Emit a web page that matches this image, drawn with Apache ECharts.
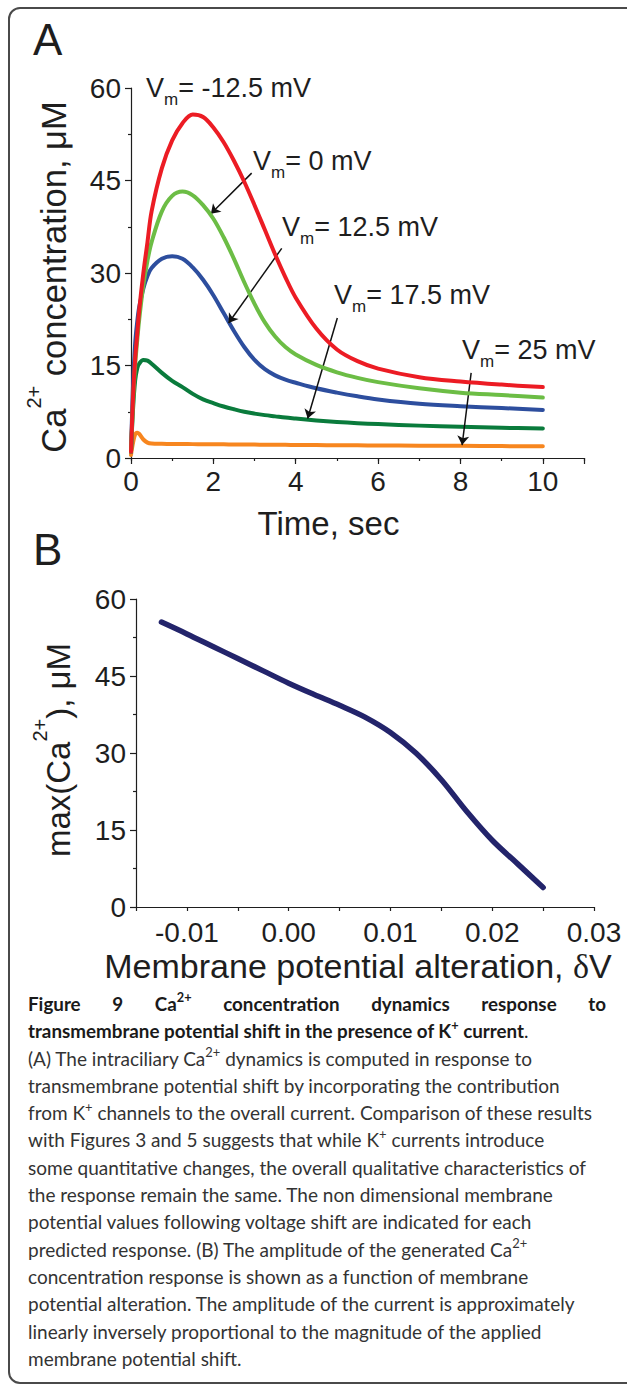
<!DOCTYPE html>
<html>
<head>
<meta charset="utf-8">
<script src="https://cdn.jsdelivr.net/npm/echarts@6/dist/echarts.min.js"></script>
<style>
html,body{margin:0;padding:0;background:#fff;}
#wrap{position:relative;width:627px;height:1387px;overflow:hidden;background:#fff;}
#frame{position:absolute;left:8px;top:7px;width:680px;height:1377px;border:2px solid #4a4a4a;border-radius:12px;box-sizing:border-box;}
#chart{position:absolute;left:0;top:0;width:627px;height:990px;}
#caption{position:absolute;left:28px;top:990px;width:580px;font-family:'Lato','Open Sans',sans-serif;font-size:19px;line-height:27.3px;color:#333;}
#caption div{white-space:nowrap;}
#caption .b{font-weight:700;color:#1a1a1a;font-size:18.8px;}
#caption .b .n{font-weight:400;}
#caption .just{white-space:normal;text-align:justify;text-align-last:justify;width:578px;}
#caption sup{font-size:0.68em;line-height:0;position:relative;top:-0.1em;}
</style>
</head>
<body>
<div id="wrap">
<div id="frame"></div>
<div id="chart"></div>
<div id="caption">
<div class="b just">Figure 9 Ca<sup>2+</sup> concentration dynamics response to</div>
<div class="b">transmembrane potential shift in the presence of K<sup>+</sup> current<span class="n">.</span></div>
<div>(A) The intraciliary Ca<sup>2+</sup> dynamics is computed in response to</div>
<div>transmembrane potential shift by incorporating the contribution</div>
<div>from K<sup>+</sup> channels to the overall current. Comparison of these results</div>
<div>with Figures 3 and 5 suggests that while K<sup>+</sup> currents introduce</div>
<div>some quantitative changes, the overall qualitative characteristics of</div>
<div>the response remain the same. The non dimensional membrane</div>
<div>potential values following voltage shift are indicated for each</div>
<div>predicted response. (B) The amplitude of the generated Ca<sup>2+</sup></div>
<div>concentration response is shown as a function of membrane</div>
<div>potential alteration. The amplitude of the current is approximately</div>
<div>linearly inversely proportional to the magnitude of the applied</div>
<div>membrane potential shift.</div>
</div>
</div>
<script>
// ---------- Panel A data: Ca2+ concentration (µM) vs time (s) ----------
const timeSec = [0, 0.05, 0.1, 0.15, 0.2, 0.3, 0.4, 0.5, 0.75, 1, 1.25, 1.5, 1.75, 2, 2.25, 2.5, 2.75, 3, 3.25, 3.5, 3.75, 4, 4.5, 5, 5.5, 6, 7, 8, 9, 10];
const caVmMinus12_5 = [1, 10, 16, 20, 24, 30, 35, 40, 47, 51.5, 54.3, 55.7, 55.3, 53.6, 51.2, 48.2, 44.8, 41, 37, 33, 29.3, 26, 21, 17.6, 15.7, 14.5, 13.1, 12.4, 11.9, 11.5];
const caVm0 = [1, 9, 15, 19, 22.5, 28, 32, 35, 40, 42.5, 43.2, 42.6, 41, 38.8, 35.8, 32.3, 28.5, 25, 22, 19.7, 18, 16.8, 15.1, 13.9, 13, 12.3, 11.3, 10.6, 10.2, 9.8];
const caVm12_5 = [1, 12, 18.5, 22, 24.5, 27.5, 29.5, 30.8, 32.3, 32.7, 32.3, 30.9, 28.9, 26.4, 23.5, 20.6, 18, 15.9, 14.4, 13.4, 12.7, 12.2, 11.3, 10.6, 10, 9.5, 8.8, 8.4, 8.1, 7.8];
const caVm17_5 = [1, 8, 12.5, 14.5, 15.3, 15.9, 15.8, 15.3, 13.8, 12.5, 11.5, 10.4, 9.5, 8.9, 8.35, 7.9, 7.5, 7.2, 6.95, 6.75, 6.55, 6.4, 6.1, 5.85, 5.65, 5.5, 5.25, 5.05, 4.9, 4.8];
const caVm25 = [0.5, 2.5, 3.8, 4.1, 3.9, 3.0, 2.5, 2.35, 2.3, 2.28, 2.26, 2.25, 2.24, 2.23, 2.21, 2.2, 2.18, 2.17, 2.16, 2.15, 2.13, 2.12, 2.1, 2.07, 2.05, 2.03, 2.0, 1.97, 1.93, 1.9];
const vmLabels = ['= -12.5 mV', '= 0 mV', '= 12.5 mV', '= 17.5 mV', '= 25 mV'];
// annotation arrows in data units [from, to]
const arrowVm0 = [[2.93, 46.2], [1.94, 39.6]];
const arrowVm12_5 = [[3.66, 34.0], [2.37, 21.9]];
const arrowVm17_5 = [[5.01, 22.7], [4.29, 6.4]];
const arrowVm25 = [[8.26, 13.8], [8.04, 2.1]];
const xTicksA = [0, 2, 4, 6, 8, 10];

// ---------- Panel B data: max Ca2+ vs membrane potential alteration ----------
const deltaV = [-0.0125, -0.01, -0.0075, -0.005, -0.0025, 0, 0.0025, 0.005, 0.0075, 0.01, 0.0125, 0.015, 0.0175, 0.02, 0.0225, 0.025];
const maxCa = [55.5, 53.2, 50.8, 48.4, 46.0, 43.6, 41.4, 39.3, 37.0, 34.0, 30.0, 24.8, 18.6, 13.0, 8.4, 3.8];

const FONT = "'Liberation Sans', Arial, Helvetica, sans-serif";
const INK = '#1e1e1e';

const chart = echarts.init(document.getElementById('chart'), null, {renderer: 'svg'});

function pairs(xs, ys) { return xs.map((x, i) => [x, ys[i]]); }
function arrowML(a) {
  return {
    silent: true, animation: false,
    symbol: ['none', 'arrow'],
    symbolSize: 9,
    label: {show: false},
    lineStyle: {color: '#111', width: 1.5, type: 'solid'},
    itemStyle: {color: '#111'},
    emphasis: {disabled: true},
    data: [[{coord: a[0]}, {coord: a[1]}]]
  };
}
function lineSeries(data, color, z, ml) {
  const s = {
    type: 'line', xAxisIndex: 0, yAxisIndex: 0, data: data,
    showSymbol: false, smooth: 0.35, z: z, silent: true,
    lineStyle: {color: color, width: 4, cap: 'round', join: 'round'}
  };
  if (ml) s.markLine = arrowML(ml);
  return s;
}

const axisLineStyle = {color: INK, width: 1.2};
const labelStyle = {fontFamily: FONT, fontSize: 28, color: INK};

function vmLabel(text, x, baseline) {
  return {
    type: 'text', x: x, y: baseline - 22.9,
    style: {
      text: '{v|V}{s|m}{v|' + text + '}',
      align: 'left', textAlign: 'left', verticalAlign: 'top', textVerticalAlign: 'top',
      fill: INK,
      rich: {
        v: {fontFamily: FONT, fontSize: 27, lineHeight: 27, verticalAlign: 'top', fill: INK},
        s: {fontFamily: FONT, fontSize: 17, lineHeight: 17, padding: [17, 0, 0, 0], verticalAlign: 'top', fill: INK}
      }
    }
  };
}
function yTitle(parts, cx, cy, fs) {
  return {
    type: 'text', x: cx, y: cy, rotation: Math.PI / 2,
    style: {
      text: parts,
      align: 'center', textAlign: 'center', verticalAlign: 'middle', textVerticalAlign: 'middle',
      fill: INK,
      rich: {
        n: {fontFamily: FONT, fontSize: fs, lineHeight: fs, padding: [12, 0, 0, 0], verticalAlign: 'top', fill: INK},
        p: {fontFamily: FONT, fontSize: 20, lineHeight: 20, verticalAlign: 'top', fill: INK}
      }
    }
  };
}

const option = {
  animation: false,
  backgroundColor: 'transparent',
  grid: [
    {left: 131, top: 88, width: 453, height: 370},
    {left: 136, top: 599, width: 458, height: 308}
  ],
  xAxis: [
    {gridIndex: 0, type: 'value', min: 0, max: 11, interval: 1, position: 'bottom',
      axisLine: {show: true, onZero: false, lineStyle: axisLineStyle},
      axisTick: {show: true, length: 3, lineStyle: axisLineStyle},
      axisLabel: {show: false}, splitLine: {show: false}},
    {gridIndex: 0, type: 'value', min: 0, max: 11, interval: 2, position: 'bottom',
      axisLine: {show: false, onZero: false},
      axisTick: {show: true, length: 6, lineStyle: axisLineStyle},
      axisLabel: Object.assign({margin: 9, formatter: v => xTicksA.indexOf(v) >= 0 ? String(v) : ''}, labelStyle),
      splitLine: {show: false}},
    {gridIndex: 1, type: 'value', min: -0.015, max: 0.03, interval: 0.005, position: 'bottom',
      axisLine: {show: true, onZero: false, lineStyle: axisLineStyle},
      axisTick: {show: true, length: 4, lineStyle: axisLineStyle},
      axisLabel: Object.assign({margin: 11, formatter: v => {
        const k = Math.round(v * 1000);
        return (k % 10 === 0) ? (k / 1000).toFixed(2) : '';
      }}, labelStyle),
      splitLine: {show: false}}
  ],
  yAxis: [
    {gridIndex: 0, type: 'value', min: 0, max: 60, interval: 15,
      axisLine: {show: true, onZero: false, lineStyle: axisLineStyle},
      axisTick: {show: true, length: 6, lineStyle: axisLineStyle},
      minorTick: {show: true, splitNumber: 2, length: 3, lineStyle: axisLineStyle},
      axisLabel: Object.assign({margin: 10}, labelStyle),
      splitLine: {show: false}, minorSplitLine: {show: false}},
    {gridIndex: 1, type: 'value', min: 0, max: 60, interval: 15,
      axisLine: {show: true, onZero: false, lineStyle: axisLineStyle},
      axisTick: {show: true, length: 6, lineStyle: axisLineStyle},
      minorTick: {show: true, splitNumber: 2, length: 3, lineStyle: axisLineStyle},
      axisLabel: Object.assign({margin: 10}, labelStyle),
      splitLine: {show: false}, minorSplitLine: {show: false}}
  ],
  series: [
    lineSeries(pairs(timeSec, caVm25), '#f7861f', 2, arrowVm25),
    lineSeries(pairs(timeSec, caVm17_5), '#0a7b3c', 3, arrowVm17_5),
    lineSeries(pairs(timeSec, caVm12_5), '#2d4e9e', 4, arrowVm12_5),
    lineSeries(pairs(timeSec, caVm0), '#6cbd45', 5, arrowVm0),
    lineSeries(pairs(timeSec, caVmMinus12_5), '#ec1c24', 6, null),
    {
      type: 'line', xAxisIndex: 2, yAxisIndex: 1, data: pairs(deltaV, maxCa),
      showSymbol: false, smooth: 0.35, silent: true,
      lineStyle: {color: '#23246b', width: 5.5, cap: 'round', join: 'round'}
    }
  ],
  graphic: [
    {type: 'text', x: 33, y: 39.8, style: {text: 'A', font: '44px ' + FONT, fill: INK, align: 'left', textAlign: 'left', verticalAlign: 'middle', textVerticalAlign: 'middle'}},
    {type: 'text', x: 33, y: 549.8, style: {text: 'B', font: '44px ' + FONT, fill: INK, align: 'left', textAlign: 'left', verticalAlign: 'middle', textVerticalAlign: 'middle'}},
    vmLabel(vmLabels[0], 146, 97),
    vmLabel(vmLabels[1], 253, 170),
    vmLabel(vmLabels[2], 282, 236),
    vmLabel(vmLabels[3], 334, 304),
    vmLabel(vmLabels[4], 462, 359),
    yTitle('{n|Ca}{p|2+}{n| concentration, μM}', 41.4, 277, 34.5),
    yTitle('{n|max(Ca}{p|2+}{n|), μM}', 46.4, 750, 33),
    {type: 'text', x: 328.5, y: 523.6, style: {text: 'Time, sec', font: '33px ' + FONT, fill: INK, align: 'center', textAlign: 'center', verticalAlign: 'middle', textVerticalAlign: 'middle'}},
    {type: 'text', x: 358, y: 966, style: {
      text: '{t|Membrane potential alteration, }{d|δ}{t|V}',
      fill: INK, align: 'center', textAlign: 'center', verticalAlign: 'middle', textVerticalAlign: 'middle',
      rich: {
        t: {fontFamily: FONT, fontSize: 34, lineHeight: 34, fill: INK},
        d: {fontFamily: "'Liberation Serif', 'Times New Roman', serif", fontSize: 34, lineHeight: 34, fill: INK}
      }}}
  ]
};
chart.setOption(option);
</script>
</body>
</html>
